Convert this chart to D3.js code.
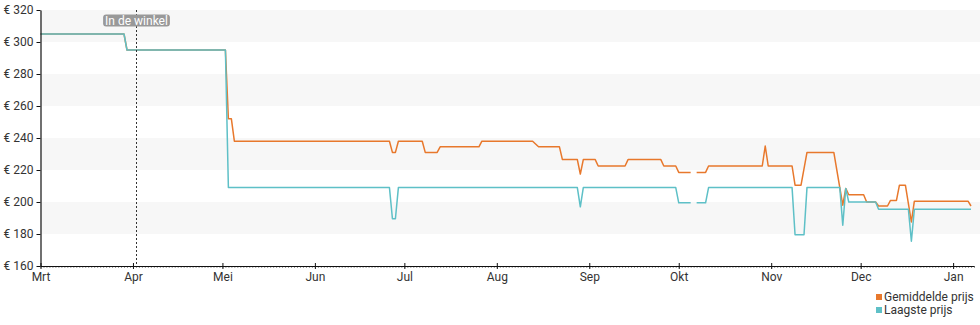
<!DOCTYPE html>
<html>
<head>
<meta charset="utf-8">
<script src="https://cdn.jsdelivr.net/npm/d3@7"></script>
<style>
  html, body { margin: 0; padding: 0; background: #fff; }
  svg { display: block; font-family: Roboto, "Noto Sans", sans-serif; }
</style>
</head>
<body>
<svg id="chart" width="980" height="325"></svg>
<script>
// Price history: average and lowest price, March to early January
const avgDates = ["2023-03-01","2023-03-29","2023-03-30","2023-05-02","2023-05-03","2023-05-04","2023-05-05",
  "2023-06-26","2023-06-27","2023-06-28","2023-06-29","2023-07-07","2023-07-08","2023-07-12","2023-07-13",
  "2023-07-26","2023-07-27","2023-08-13","2023-08-15","2023-08-22","2023-08-23","2023-08-28","2023-08-29",
  "2023-08-30","2023-09-03","2023-09-04","2023-09-13","2023-09-14","2023-09-25","2023-09-26","2023-09-30",
  "2023-10-01","2023-10-05","2023-10-06","2023-10-07","2023-10-10","2023-10-11","2023-10-29","2023-10-30",
  "2023-10-31","2023-11-08","2023-11-09","2023-11-11","2023-11-13","2023-11-22","2023-11-25","2023-11-26",
  "2023-11-27","2023-12-02","2023-12-03","2023-12-06","2023-12-07","2023-12-10","2023-12-11","2023-12-13",
  "2023-12-14","2023-12-16","2023-12-18","2023-12-19","2024-01-06","2024-01-07"];
const avgPrices = [305,305,295,295,252,252,238,
  238,231,231,238,238,231,231,234.5,
  234.5,238,238,234.5,234.5,226.5,226.5,217.5,
  226.5,226.5,222.5,222.5,226.5,226.5,222.5,222.5,
  218.5,218.5,null,218.5,218.5,222.5,222.5,235,
  222.5,222.5,210.5,210.5,231,231,198,208.5,
  204.5,204.5,200,200,197.5,197.5,201,201,
  210.5,210.5,187.5,200.5,200.5,197.5];

const lowDates = ["2023-03-01","2023-03-29","2023-03-30","2023-05-02","2023-05-03","2023-06-26","2023-06-27",
  "2023-06-28","2023-06-29","2023-08-28","2023-08-29","2023-08-30","2023-09-30","2023-10-01","2023-10-05",
  "2023-10-06","2023-10-07","2023-10-10","2023-10-11","2023-11-08","2023-11-09","2023-11-12","2023-11-13",
  "2023-11-24","2023-11-25","2023-11-26","2023-11-27","2023-12-06","2023-12-07","2023-12-17","2023-12-18",
  "2023-12-19","2024-01-07"];
const lowPrices = [305,305,295,295,209,209,189.5,
  189.5,209,209,197,209,209,199.5,199.5,
  null,199.5,199.5,209,209,179.5,179.5,209,
  209,185.5,208.5,200,200,195.5,195.5,175.5,
  195.5,195.5];

const monthLabels = ["Mrt","Apr","Mei","Jun","Jul","Aug","Sep","Okt","Nov","Dec","Jan"];
const priceTicks = [160,180,200,220,240,260,280,300,320];
const seriesNames = ["Gemiddelde prijs","Laagste prijs"];
const seriesColors = ["#e8782c","#5ec0c7"];
const storeDate = "2023-04-02";
const storeLabel = "In de winkel";

const parse = d3.timeParse("%Y-%m-%d");
const svg = d3.select("#chart");

const x = d3.scaleTime()
  .domain([parse("2023-03-01"), parse("2024-01-08")])
  .range([40.5, 974]);
const y = d3.scaleLinear().domain([160, 320]).range([266, 10]);

// alternating background bands
const bands = [];
for (let i = 0; i < priceTicks.length - 1; i++) {
  if (i % 2 === 1) bands.push([priceTicks[i], priceTicks[i + 1]]);
}
svg.append("g").selectAll("rect").data(bands).join("rect")
  .attr("x", x.range()[0])
  .attr("width", 980 - x.range()[0])
  .attr("y", d => y(d[1]))
  .attr("height", d => y(d[0]) - y(d[1]))
  .attr("fill", "#f7f7f7");

// price lines (lowest price drawn on top)
const toPoints = (dates, vals) => dates.map((d, i) => ({ date: parse(d), v: vals[i] }));
const line = d3.line()
  .defined(d => d.v !== null)
  .x(d => x(d.date))
  .y(d => y(d.v));

const series = [toPoints(avgDates, avgPrices), toPoints(lowDates, lowPrices)];
series.forEach((pts, i) => {
  svg.append("path")
    .datum(pts)
    .attr("fill", "none")
    .attr("stroke", seriesColors[i])
    .attr("stroke-width", 1.5)
    .attr("stroke-linejoin", "round")
    .attr("d", line);
});

// minor day ticks under the x axis
const minor = svg.append("g").attr("transform", `translate(0,${y(160)})`)
  .call(d3.axisBottom(x).ticks(d3.timeDay.every(1)).tickSize(2).tickFormat(""));
minor.select(".domain").remove();
minor.selectAll("line").attr("stroke", "#999");

// x axis with month ticks
const months = d3.timeMonth.range(parse("2023-03-01"), parse("2024-01-08"));
const xAxis = svg.append("g").attr("transform", `translate(0,${y(160)})`)
  .call(d3.axisBottom(x).tickValues(months).tickSize(3).tickSizeOuter(0).tickPadding(3)
    .tickFormat((d, i) => monthLabels[i]));
xAxis.select(".domain").attr("stroke", "#111").attr("stroke-width", 1.2);
xAxis.selectAll(".tick line").attr("y1", -3).attr("y2", 3).attr("stroke", "#111");
xAxis.selectAll(".tick text").attr("font-size", 12).attr("fill", "#333")
  .attr("font-family", "Roboto, sans-serif");

// y axis
const yAxis = svg.append("g").attr("transform", `translate(${x.range()[0]},0)`)
  .call(d3.axisLeft(y).tickValues(priceTicks).tickSize(4).tickSizeOuter(0).tickPadding(3)
    .tickFormat(d => "€ " + d));
yAxis.select(".domain").attr("stroke", "#111").attr("stroke-width", 1.2);
yAxis.selectAll(".tick line").attr("stroke", "#111");
yAxis.selectAll(".tick text").attr("font-size", 12).attr("fill", "#333")
  .attr("font-family", "Roboto, sans-serif");

// store availability marker
const sx = Math.round(x(parse(storeDate))) + 0.5;
svg.append("line")
  .attr("x1", sx).attr("x2", sx)
  .attr("y1", y(320)).attr("y2", y(160))
  .attr("stroke", "#333").attr("stroke-width", 1)
  .attr("stroke-dasharray", "2,2");
const tag = svg.append("g");
const tagText = tag.append("text")
  .attr("x", sx).attr("y", 24.5)
  .attr("text-anchor", "middle")
  .attr("font-size", 12).attr("fill", "#fff")
  .text(storeLabel);
const bb = tagText.node().getBBox();
tag.insert("rect", "text")
  .attr("x", bb.x - 2).attr("y", 14.5)
  .attr("width", bb.width + 4).attr("height", 12)
  .attr("rx", 3).attr("fill", "#999");

// legend
const legend = svg.append("g").attr("transform", "translate(876,0)");
seriesNames.forEach((name, i) => {
  const ly = 301 + i * 13;
  legend.append("rect").attr("x", 0).attr("y", ly - 7).attr("width", 6).attr("height", 6)
    .attr("fill", seriesColors[i]);
  legend.append("text").attr("x", 8).attr("y", ly)
    .attr("font-size", 12).attr("fill", "#333").text(name);
});
</script>
</body>
</html>
